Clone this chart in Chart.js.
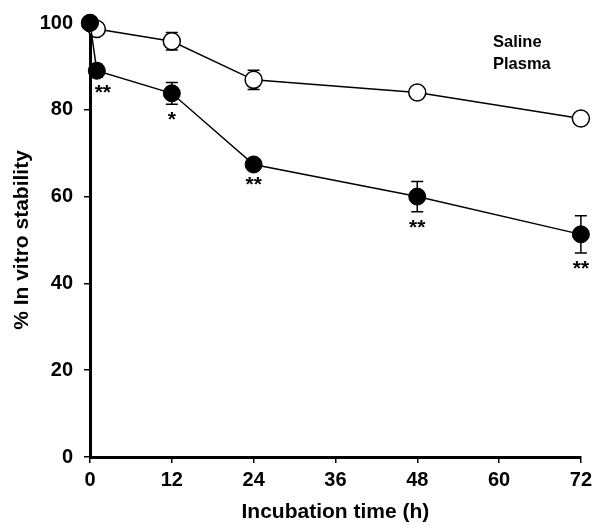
<!DOCTYPE html>
<html>
<head>
<meta charset="utf-8">
<script src="https://cdn.jsdelivr.net/npm/chart.js@4.4.1/dist/chart.umd.min.js"></script>
<style>
  body { margin: 0; background: #fff; }
  #wrap { width: 597px; height: 525px; }
</style>
</head>
<body>
<div id="wrap"><canvas id="chart"></canvas></div>
<script>
// incubation times (h)
const times = [0, 1, 12, 24, 48, 72];
const xTicks = [0, 12, 24, 36, 48, 60, 72];

// % in vitro stability
const saline = [100, 98.6, 95.8, 86.9, 84.0, 78.0];
const salineErr = [0, 0, 2.0, 2.2, 0, 0];
const plasma = [100, 89.0, 83.8, 67.4, 60.0, 51.3];
const plasmaErr = [0, 1.5, 2.5, 0, 3.5, 4.3];
const plasmaStars = ["", "**", "*", "**", "**", "**"];

const FONT = "'Liberation Sans', Arial, sans-serif";

const toPoints = (vals) => vals.map((v, i) => ({ x: times[i], y: v }));

// error bars go under the markers
const errorBars = {
  id: "errorBars",
  beforeDatasetsDraw(chart) {
    const { ctx, scales: { x, y } } = chart;
    const sets = [[saline, salineErr], [plasma, plasmaErr]];
    ctx.save();
    ctx.strokeStyle = "#000";
    ctx.lineWidth = 1.5;
    sets.forEach(([vals, errs]) => {
      vals.forEach((v, i) => {
        if (!errs[i]) return;
        const px = x.getPixelForValue(times[i]);
        const top = y.getPixelForValue(v + errs[i]);
        const bot = y.getPixelForValue(v - errs[i]);
        ctx.beginPath();
        ctx.moveTo(px, top); ctx.lineTo(px, bot);
        ctx.moveTo(px - 6, top); ctx.lineTo(px + 6, top);
        ctx.moveTo(px - 6, bot); ctx.lineTo(px + 6, bot);
        ctx.stroke();
      });
    });
    ctx.restore();
  },
  afterDatasetsDraw(chart) {
    const { ctx, scales: { x, y } } = chart;
    ctx.save();
    ctx.fillStyle = "#000";
    ctx.textAlign = "center";
    ctx.textBaseline = "middle";
    ctx.font = "bold 21px " + FONT;
    plasmaStars.forEach((s, i) => {
      if (!s) return;
      const px = x.getPixelForValue(times[i]);
      const py = Math.max(y.getPixelForValue(plasma[i] - plasmaErr[i]) + 16, y.getPixelForValue(plasma[i]) + 21);
      ctx.fillText(s, px + (i === 1 ? 6 : 0), py);
    });
    // legend text
    ctx.textAlign = "left";
    ctx.font = "bold 16.5px " + FONT;
    ctx.fillText("Saline", 493, 42);
    ctx.fillText("Plasma", 493, 64);
    ctx.restore();
  }
};

new Chart(document.getElementById("chart"), {
  type: "line",
  data: {
    datasets: [
      {
        label: "Plasma",
        data: toPoints(plasma),
        borderColor: "#000",
        borderWidth: 1.5,
        backgroundColor: "#000",
        pointBackgroundColor: "#000",
        pointBorderColor: "#000",
        pointRadius: 8.5,
        pointBorderWidth: 1,
        order: 1,
      },
      {
        label: "Saline",
        data: toPoints(saline),
        borderColor: "#000",
        borderWidth: 1.5,
        pointBackgroundColor: "#fff",
        pointBorderColor: "#000",
        pointRadius: 8.5,
        pointBorderWidth: 1.5,
        order: 2,
      },
    ],
  },
  options: {
    responsive: true,
    maintainAspectRatio: false,
    animation: false,
    clip: false,
    layout: { padding: { top: 22, right: 12, left: 0, bottom: 0 } },
    plugins: { legend: { display: false }, tooltip: { enabled: false } },
    scales: {
      x: {
        type: "linear",
        min: 0,
        max: 72,
        afterBuildTicks: (s) => { s.ticks = xTicks.map((v) => ({ value: v })); },
        afterFit: (s) => { s.height = 68; },
        grid: { display: true, drawOnChartArea: false, drawTicks: true, tickLength: 6, color: "#000", lineWidth: 1.5 },
        border: { display: true, color: "#000", width: 3 },
        ticks: { color: "#000", font: { family: FONT, size: 20, weight: "bold" }, padding: 5, maxRotation: 0 },
        title: { display: true, text: "Incubation time (h)", color: "#000", font: { family: FONT, size: 21, weight: "bold" }, padding: { top: 7, bottom: 0 } },
      },
      y: {
        min: 0,
        max: 100,
        ticks: { stepSize: 20, color: "#000", font: { family: FONT, size: 20, weight: "bold" }, padding: 11 },
        afterFit: (s) => { s.width = 90; },
        grid: { display: true, drawOnChartArea: false, drawTicks: true, tickLength: 6, color: "#000", lineWidth: 1.5 },
        border: { display: true, color: "#000", width: 3 },
        title: { display: true, text: "% In vitro stability", color: "#000", font: { family: FONT, size: 21, weight: "bold" }, padding: { top: 10, bottom: 0 } },
      },
    },
  },
  plugins: [errorBars],
});
</script>
</body>
</html>
